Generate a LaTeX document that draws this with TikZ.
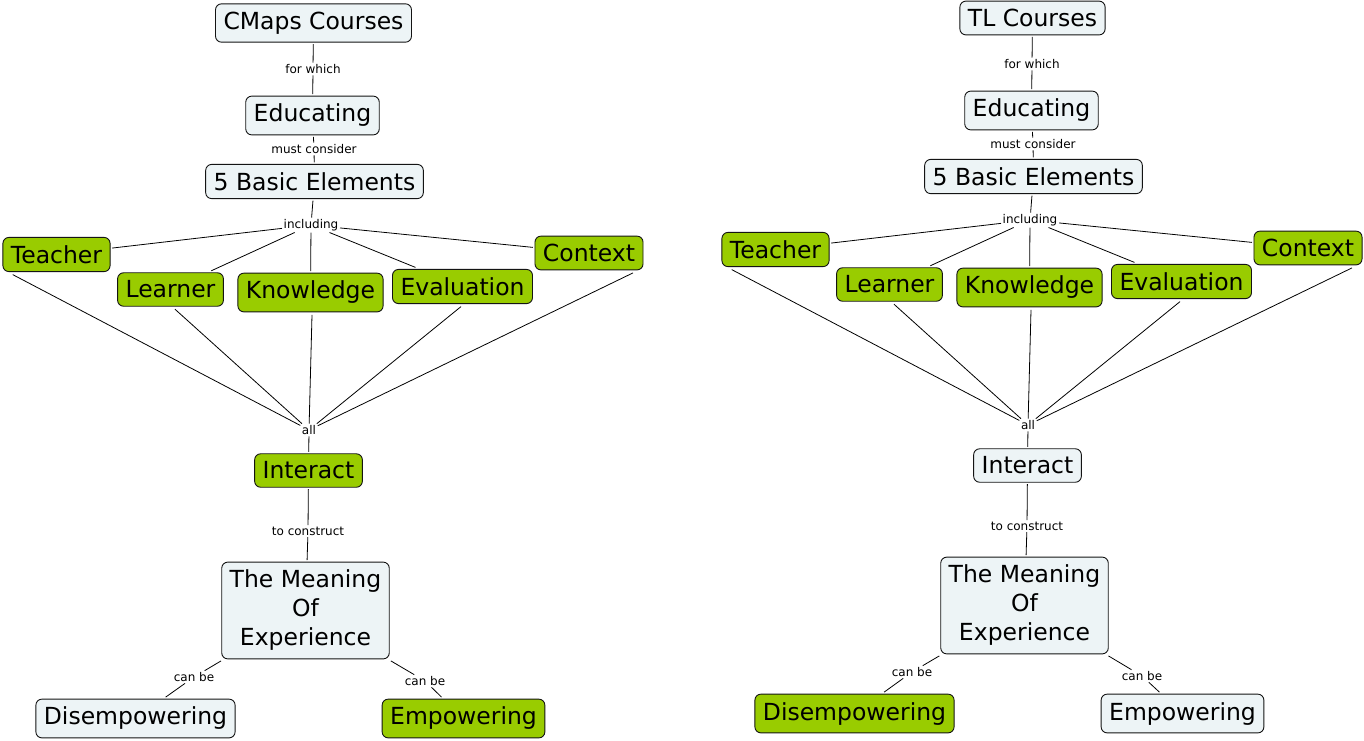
\documentclass[tikz,border=0pt]{standalone}
\usepackage{fontspec}
\setmainfont{DejaVu Sans}
\definecolor{cgreen}{RGB}{153,204,0}
\definecolor{clight}{RGB}{237,244,246}
\definecolor{cborder}{RGB}{20,20,20}
\tikzset{
  concept/.style={draw=cborder, line width=0.9pt, rounded corners=6pt, inner xsep=8pt, inner ysep=8pt,
    font=\fontsize{23.5}{29}\selectfont, align=center, outer sep=2pt},
  gconcept/.style={concept, fill=cgreen},
  wconcept/.style={concept, fill=clight},
  linklabel/.style={font=\fontsize{12}{14}\selectfont, inner sep=1.5pt, fill=white},
  conn/.style={draw=black, line width=0.8pt}
}
\begin{document}
\begin{tikzpicture}[x=1pt,y=-1pt]
\useasboundingbox[fill=white] (0,0) rectangle (1364,740);

% ---------- Left map ----------
\node[wconcept] (Lcm) at (313.5,23) {CMaps Courses};
\node[linklabel] (Lfw) at (313,69) {for which};
\node[wconcept] (Led) at (312.5,115.5) {Educating};
\node[linklabel] (Lmc) at (314,149) {must consider};
\node[wconcept] (Lbe) at (314.5,181.5) {5 Basic Elements};
\node[linklabel] (Lin) at (311,225) {including};
\node[gconcept] (Lte) at (56.5,254.5) {Teacher};
\node[gconcept] (Lle) at (170.5,289.5) {Learner};
\node[gconcept] (Lkn) at (310.5,292.5) {Knowledge};
\node[gconcept] (Lev) at (462.5,286.5) {Evaluation};
\node[gconcept] (Lco) at (589,253) {Context};
\node[linklabel] (Lal) at (309,430) {all};
\node[gconcept] (Lia) at (308.5,470.5) {Interact};
\node[linklabel] (Ltc) at (308,531) {to construct};
\node[wconcept] (Lme) at (305.5,610.5) {The Meaning\\Of\\Experience};
\node[linklabel] (Lcl) at (194,677) {can be};
\node[linklabel] (Lcr) at (425,681) {can be};
\node[wconcept] (Ldi) at (135.5,718.5) {Disempowering};
\node[gconcept] (Lem) at (463.5,718.5) {Empowering};

\draw[conn] (Lcm) -- (Lfw);
\draw[conn] (Lfw) -- (Led);
\draw[conn] (Led) -- (Lmc);
\draw[conn] (Lmc) -- (Lbe);
\draw[conn] (Lbe) -- (Lin);
\draw[conn] (Lin) -- (Lte);
\draw[conn] (Lin) -- (Lle);
\draw[conn] (Lin) -- (Lkn);
\draw[conn] (Lin) -- (Lev);
\draw[conn] (Lin) -- (Lco);
\draw[conn] ([xshift=-43.8pt,yshift=-1pt]Lte.south) -- (Lal);
\draw[conn] ([xshift=4.5pt,yshift=-1pt]Lle.south) -- (Lal);
\draw[conn] ([xshift=1.5pt,yshift=-1pt]Lkn.south) -- (Lal);
\draw[conn] ([xshift=-1.5pt,yshift=-1pt]Lev.south) -- (Lal);
\draw[conn] ([xshift=44pt,yshift=-1pt]Lco.south) -- (Lal);
\draw[conn] (Lal) -- (Lia);
\draw[conn] (Lia) -- (Ltc);
\draw[conn] (Ltc) -- (Lme);
\draw[conn] (Lme) -- (Lcl);
\draw[conn] (Lcl) -- (Ldi);
\draw[conn] (Lme) -- (Lcr);
\draw[conn] (Lcr) -- (Lem);

% ---------- Right map ----------
\node[wconcept] (Rtl) at (1032.5,18) {TL Courses};
\node[linklabel] (Rfw) at (1032,64) {for which};
\node[wconcept] (Red) at (1031.5,110.5) {Educating};
\node[linklabel] (Rmc) at (1033,144) {must consider};
\node[wconcept] (Rbe) at (1033.5,176.5) {5 Basic Elements};
\node[linklabel] (Rin) at (1030,220) {including};
\node[gconcept] (Rte) at (775.5,249.5) {Teacher};
\node[gconcept] (Rle) at (889.5,284.5) {Learner};
\node[gconcept] (Rkn) at (1029.5,287.5) {Knowledge};
\node[gconcept] (Rev) at (1181.5,281.5) {Evaluation};
\node[gconcept] (Rco) at (1308,248) {Context};
\node[linklabel] (Ral) at (1028,425) {all};
\node[wconcept] (Ria) at (1027.5,465.5) {Interact};
\node[linklabel] (Rtc) at (1027,526) {to construct};
\node[wconcept] (Rme) at (1024.5,605.5) {The Meaning\\Of\\Experience};
\node[linklabel] (Rcl) at (912,672) {can be};
\node[linklabel] (Rcr) at (1142,676) {can be};
\node[gconcept] (Rdi) at (854.5,713.5) {Disempowering};
\node[wconcept] (Rem) at (1182.5,713.5) {Empowering};

\draw[conn] (Rtl) -- (Rfw);
\draw[conn] (Rfw) -- (Red);
\draw[conn] (Red) -- (Rmc);
\draw[conn] (Rmc) -- (Rbe);
\draw[conn] (Rbe) -- (Rin);
\draw[conn] (Rin) -- (Rte);
\draw[conn] (Rin) -- (Rle);
\draw[conn] (Rin) -- (Rkn);
\draw[conn] (Rin) -- (Rev);
\draw[conn] (Rin) -- (Rco);
\draw[conn] ([xshift=-43.8pt,yshift=-1pt]Rte.south) -- (Ral);
\draw[conn] ([xshift=4.5pt,yshift=-1pt]Rle.south) -- (Ral);
\draw[conn] ([xshift=1.5pt,yshift=-1pt]Rkn.south) -- (Ral);
\draw[conn] ([xshift=-1.5pt,yshift=-1pt]Rev.south) -- (Ral);
\draw[conn] ([xshift=44pt,yshift=-1pt]Rco.south) -- (Ral);
\draw[conn] (Ral) -- (Ria);
\draw[conn] (Ria) -- (Rtc);
\draw[conn] (Rtc) -- (Rme);
\draw[conn] (Rme) -- (Rcl);
\draw[conn] (Rcl) -- (Rdi);
\draw[conn] (Rme) -- (Rcr);
\draw[conn] (Rcr) -- (Rem);
\end{tikzpicture}
\end{document}
